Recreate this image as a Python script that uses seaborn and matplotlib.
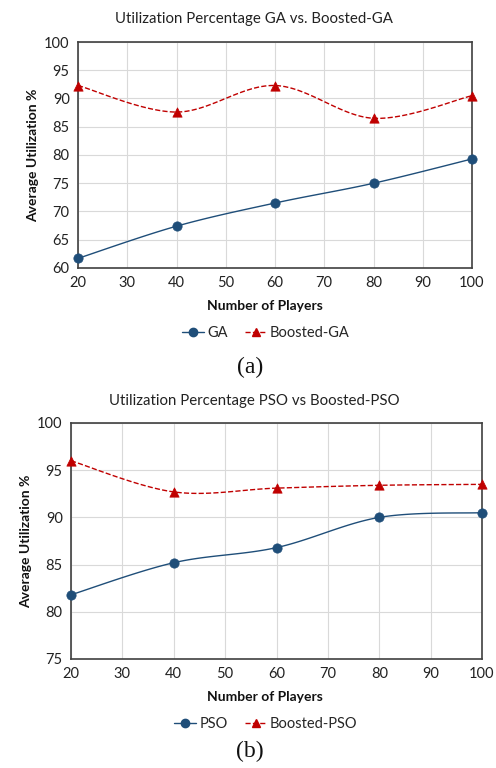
import numpy as np
import pandas as pd
import matplotlib
matplotlib.use("Agg")
import matplotlib.pyplot as plt
import seaborn as sns

players = [20, 40, 60, 80, 100]
ga = [61.7, 67.4, 71.5, 75.0, 79.3]
boosted_ga = [92.3, 87.6, 92.3, 86.5, 90.5]
pso = [81.8, 85.2, 86.8, 90.0, 90.5]
boosted_pso = [96.0, 92.7, 93.1, 93.4, 93.5]

sns.set_theme(style="white")
plt.rcParams['font.family'] = ['Lato', 'DejaVu Sans']

BLUE = "#1f4e79"
RED = "#c00000"


def smooth(x, y, n=30):
    x = np.asarray(x, float); y = np.asarray(y, float)
    px = np.concatenate([[x[0]], x, [x[-1]]])
    py = np.concatenate([[y[0]], y, [y[-1]]])
    xs, ys = [], []
    for i in range(1, len(px) - 2):
        p0, p1, p2, p3 = [np.array([px[j], py[j]]) for j in (i - 1, i, i + 1, i + 2)]
        b1 = p1 + (p2 - p0) / 6.0
        b2 = p2 - (p3 - p1) / 6.0
        t = np.linspace(0, 1, n)[:, None]
        pts = ((1 - t) ** 3) * p1 + 3 * ((1 - t) ** 2) * t * b1 + 3 * (1 - t) * t ** 2 * b2 + t ** 3 * p2
        xs.append(pts[:, 0]); ys.append(pts[:, 1])
    return np.concatenate(xs), np.concatenate(ys)


fig = plt.figure(figsize=(4.96, 7.68), dpi=100)
W, H = 496, 768


def panel(rect, s1, s2, names, ylim, yticks, title, title_y, label, label_y, legend_y, xlabel_y):
    ax = fig.add_axes([rect[0] / W, 1 - rect[3] / H, (rect[2] - rect[0]) / W, (rect[3] - rect[1]) / H])
    for vals, name, color, ls, mk in [(s1, names[0], BLUE, '-', 'o'), (s2, names[1], RED, '--', '^')]:
        sx, sy = smooth(players, vals)
        sns.lineplot(x=sx, y=sy, ax=ax, color=color, linestyle=ls, linewidth=1.0, sort=False, estimator=None)
        df = pd.DataFrame({"x": players, "y": vals})
        sns.scatterplot(data=df, x="x", y="y", ax=ax, color=color, marker=mk, s=45, edgecolor=color,
                        linewidth=0.5, zorder=5, clip_on=False)
    ax.set_xlim(20, 100)
    ax.set_ylim(*ylim)
    ax.set_xticks(range(20, 101, 10))
    ax.set_yticks(yticks)
    ax.grid(True, color="#d9d9d9", linewidth=0.8)
    ax.set_axisbelow(True)
    for sp in ax.spines.values():
        sp.set_color("#404040"); sp.set_linewidth(1.2)
    ax.tick_params(axis='both', labelsize=10.5, colors="#222222", length=0, pad=6)
    ax.set_xlabel("")
    ax.set_ylabel("Average Utilization %", fontsize=10, fontweight='bold', color="#111111", labelpad=4)
    fig.text(254 / W, 1 - title_y / H, title, ha='center', va='center', fontsize=10.8, color="#222222")
    fig.text(265 / W, 1 - xlabel_y / H, "Number of Players", ha='center', va='center', fontsize=10, fontweight='bold', color="#111111")
    handles = [plt.Line2D([], [], color=BLUE, marker='o', linestyle='-', markersize=6, linewidth=1.0),
               plt.Line2D([], [], color=RED, marker='^', linestyle='--', markersize=6, linewidth=1.0)]
    fig.legend(handles, names, loc='center', bbox_to_anchor=(266 / W, 1 - legend_y / H), ncol=2, frameon=False,
               fontsize=10.5, handlelength=1.5, handletextpad=0.2, columnspacing=1.2)
    fig.text(250 / W, 1 - label_y / H, label, ha='center', va='center', fontsize=17, family='Liberation Serif', color="#111111")
    return ax


panel((78, 42, 472, 268), ga, boosted_ga, ["GA", "Boosted-GA"], (60, 100), range(60, 101, 5),
      "Utilization Percentage GA vs. Boosted-GA", 19, "(a)", 367, 333, 306)
panel((71, 423, 482, 659), pso, boosted_pso, ["PSO", "Boosted-PSO"], (75, 100), range(75, 101, 5),
      "Utilization Percentage PSO vs Boosted-PSO", 401, "(b)", 751, 724, 697)

fig.savefig("out.png", dpi=100)
